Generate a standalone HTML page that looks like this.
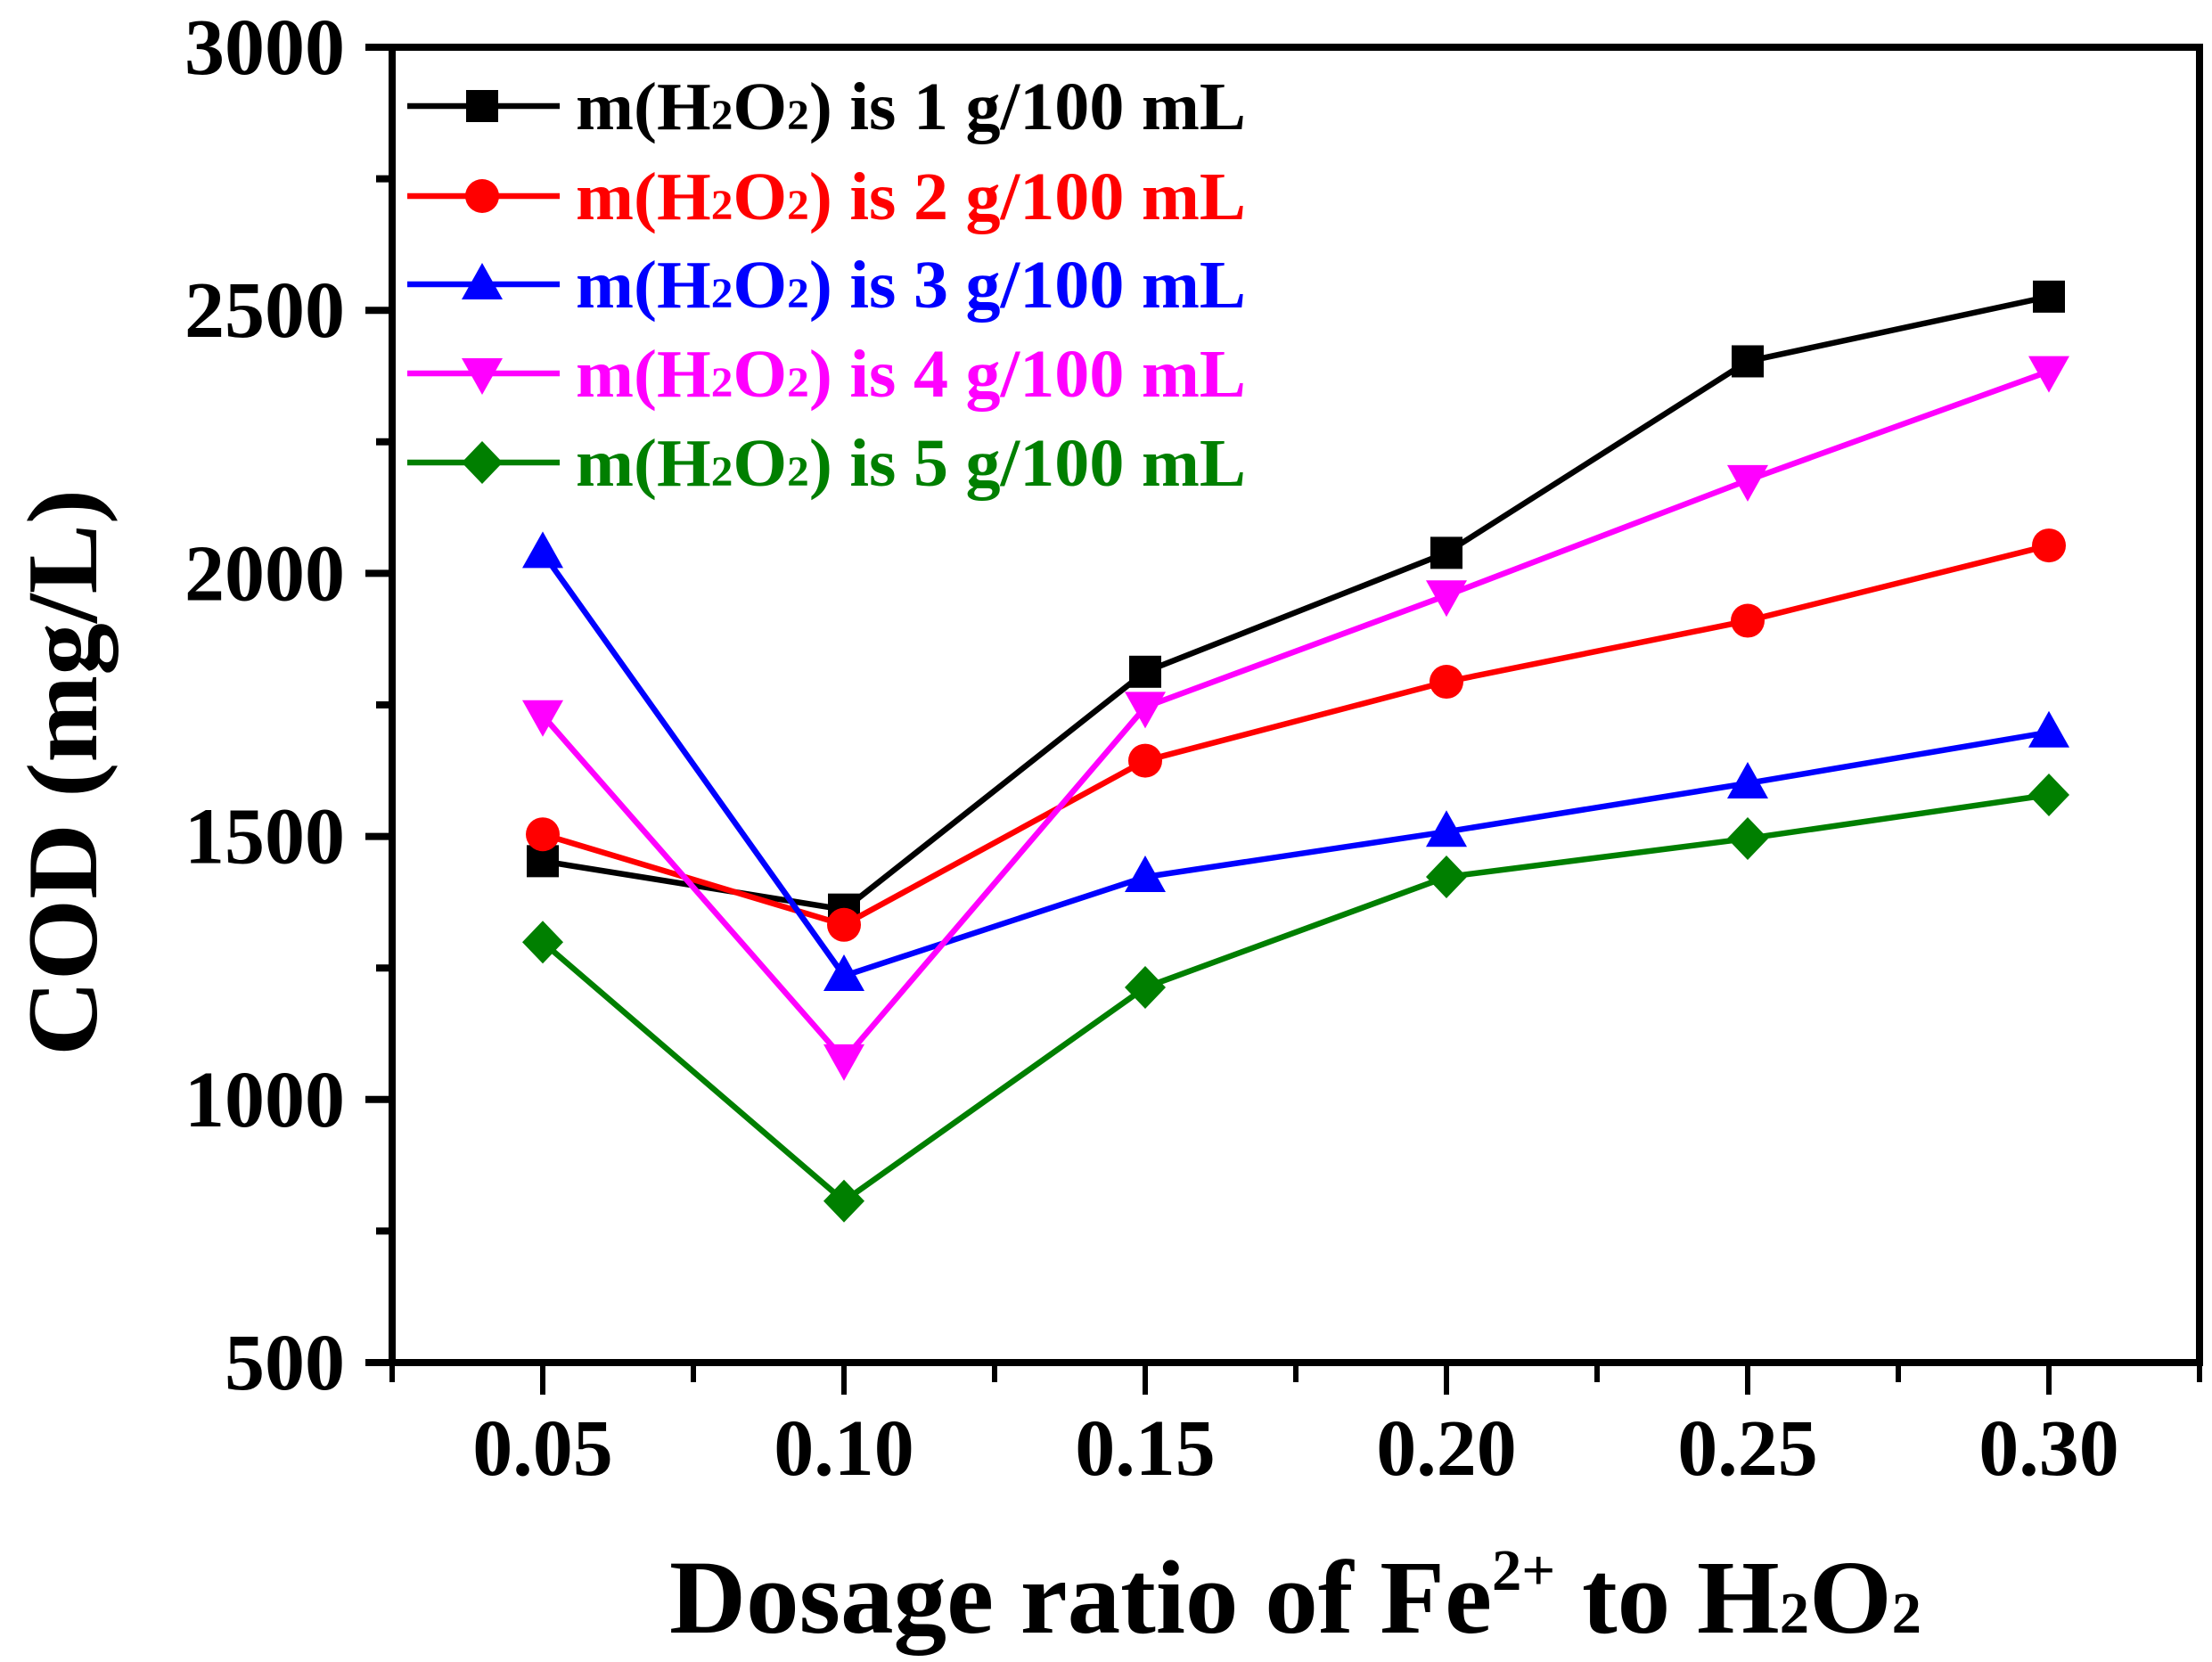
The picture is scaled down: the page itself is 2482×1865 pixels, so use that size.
<!DOCTYPE html>
<html><head><meta charset="utf-8"><style>
html,body{margin:0;padding:0;background:#fff;}
svg{display:block;}
text{font-family:"Liberation Serif",serif;font-weight:bold;}
</style></head><body>
<svg id="chart" width="2482" height="1865" viewBox="0 0 2482 1865" xmlns="http://www.w3.org/2000/svg">
<g id="axes"></g>
<g id="series"></g>
<g id="legend"></g>
<text transform="translate(108,867) rotate(-90)" text-anchor="middle" font-size="112" textLength="636" lengthAdjust="spacingAndGlyphs">COD (mg/L)</text>
<text x="751" y="1832" font-size="118" textLength="1405" lengthAdjust="spacingAndGlyphs">Dosage ratio of Fe<tspan dy="-48" font-size="66">2+</tspan><tspan dy="48"> to H</tspan><tspan font-size="66">2</tspan>O<tspan font-size="66">2</tspan></text>
</svg>
<script>
const categories = [0.05, 0.10, 0.15, 0.20, 0.25, 0.30];
const xTickLabels = ["0.05", "0.10", "0.15", "0.20", "0.25", "0.30"];
const yTickValues = [500, 1000, 1500, 2000, 2500, 3000];
const yTickLabels = ["500", "1000", "1500", "2000", "2500", "3000"];
const seriesNames = ["1", "2", "3", "4", "5"];
const series1 = [1453, 1361, 1813, 2039, 2403, 2526];
const series2 = [1504, 1332, 1644, 1794, 1910, 2053];
const series3 = [2039, 1235, 1423, 1509, 1601, 1698];
const series4 = [1730, 1076, 1746, 1958, 2177, 2384];
const series5 = [1299, 807, 1213, 1423, 1496, 1579];

const NS = "http://www.w3.org/2000/svg";
const L = 440, R = 2468, T = 53, B = 1529;
const xMin = 0.025, xMax = 0.325, yMin = 500, yMax = 3000;
function xs(v){ return L + (v - xMin) / (xMax - xMin) * (R - L); }
function ys(v){ return B - (v - yMin) / (yMax - yMin) * (B - T); }
function mk(tag, attrs, parent){
  const e = document.createElementNS(NS, tag);
  for (const k in attrs) e.setAttribute(k, attrs[k]);
  parent.appendChild(e);
  return e;
}
const axes = document.getElementById('axes');
const frame = mk('rect', {x:L, y:T, width:R-L, height:B-T, fill:'none', stroke:'#000', 'stroke-width':8}, axes);


for (let v = 500; v <= 3000; v += 250) {
  const major = (v % 500 === 0);
  const t = mk('line', {x1:L - (major ? 30 : 18), x2:L, y1:ys(v), y2:ys(v), stroke:'#000', 'stroke-width':8}, axes);
  
  
}
yTickValues.forEach((v, i) => {
  const t = mk('text', {x:387, y:ys(v) + 30, 'text-anchor':'end', 'font-size':90}, axes);
  t.textContent = yTickLabels[i];
  
  
});
for (let k = 0; k <= 12; k++) {
  const v = 0.025 + k * 0.025;
  const major = (k % 2 === 1);
  const t = mk('line', {x1:xs(v), x2:xs(v), y1:B, y2:B + (major ? 36 : 22), stroke:'#000', 'stroke-width':6}, axes);
  
  
}
categories.forEach((v, i) => {
  const t = mk('text', {x:xs(v), y:1655, 'text-anchor':'middle', 'font-size':90}, axes);
  t.textContent = xTickLabels[i];
  
  
});

const colors = ['#000000', '#ff0000', '#0000ff', '#ff00ff', '#007f00'];
const shapes = ['square', 'circle', 'up', 'down', 'diamond'];
const allSeries = [series1, series2, series3, series4, series5];
function marker(shape, x, y, c, parent){
  let e;
  if (shape === 'square') e = mk('rect', {x:x-18, y:y-18, width:36, height:36, fill:c}, parent);
  else if (shape === 'circle') e = mk('circle', {cx:x, cy:y, r:19, fill:c}, parent);
  else if (shape === 'up') e = mk('polygon', {points:`${x},${y-24} ${x-23},${y+17} ${x+23},${y+17}`, fill:c}, parent);
  else if (shape === 'down') e = mk('polygon', {points:`${x},${y+24} ${x-23},${y-17} ${x+23},${y-17}`, fill:c}, parent);
  else e = mk('polygon', {points:`${x},${y-24} ${x+23},${y} ${x},${y+24} ${x-23},${y}`, fill:c}, parent);
  return e;
}
const sg = document.getElementById('series');
allSeries.forEach((data, si) => {
  const g = mk('g', {}, sg);
  
  
  const pts = data.map((v, i) => xs(categories[i]) + ',' + ys(v)).join(' ');
  const pl = mk('polyline', {points:pts, fill:'none', stroke:colors[si], 'stroke-width':6.5, 'stroke-linejoin':'miter'}, g);
  
  
  data.forEach((v, i) => {
    const m = marker(shapes[si], xs(categories[i]), ys(v), colors[si], g);
    
    
  });
});
const lg = document.getElementById('legend');
const rowsY = [119, 220, 319, 419, 519];
seriesNames.forEach((n, si) => {
  const g = mk('g', {}, lg);
  
  
  const y = rowsY[si];
  mk('line', {x1:457, x2:628, y1:y, y2:y, stroke:colors[si], 'stroke-width':6.5}, g);
  marker(shapes[si], 541, y, colors[si], g);
  const t = mk('text', {x:646, y:y + 26, 'font-size':76, fill:colors[si], textLength:752, lengthAdjust:'spacingAndGlyphs'}, g);
  t.innerHTML = 'm(H<tspan font-size="48">2</tspan>O<tspan font-size="48">2</tspan>) is ' + n + ' g/100 mL';
});
</script>
</body></html>
